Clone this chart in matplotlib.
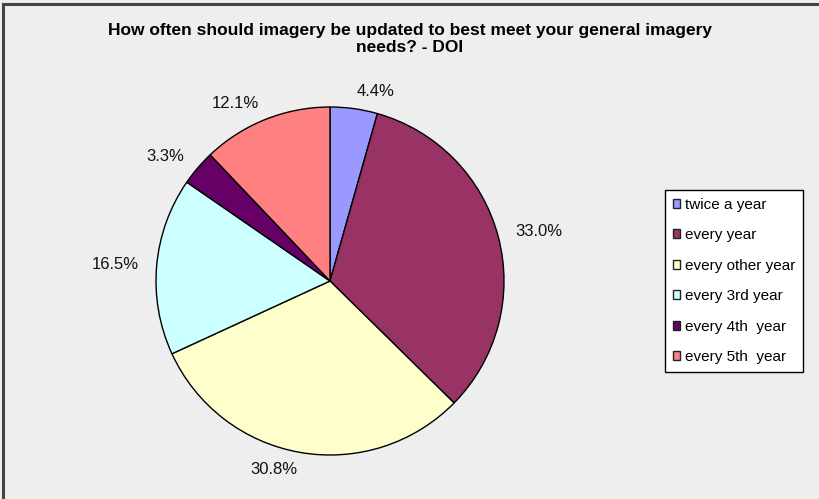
import matplotlib
matplotlib.use("Agg")
from matplotlib import pyplot as plt
from matplotlib.lines import Line2D

plt.rcParams['font.family'] = ['Liberation Sans', 'DejaVu Sans']

# survey answers (share of DOI respondents)
categories = ["twice a year", "every year", "every other year",
              "every 3rd year", "every 4th  year", "every 5th  year"]
shares = [4.4, 33.0, 30.8, 16.5, 3.3, 12.1]
colours = ["#9999FF", "#993366", "#FFFFCC", "#CCFFFF", "#660066", "#FF8080"]
pct_labels = ["%.1f%%" % s for s in shares]

fig = plt.figure(figsize=(8.2, 4.99), dpi=100)
fig.patch.set_facecolor("#EEEEEE")

# frame lines round the chart area
fig.add_artist(Line2D([0.004, 0.004], [0, 0.992], color="#444444", lw=2.2))
fig.add_artist(Line2D([0.004, 1], [0.992, 0.992], color="#444444", lw=2.2))

W, H = 820, 499
cx, cy, r = 330, 281, 174
ax = fig.add_axes([(cx - r) / W, (H - cy - r) / H, 2 * r / W, 2 * r / H])
ax.set_facecolor("none")

wedges, texts = ax.pie(shares, colors=colours, labels=pct_labels,
                       startangle=90, counterclock=False, labeldistance=1.1,
                       wedgeprops=dict(edgecolor="black", linewidth=1.0),
                       textprops=dict(fontsize=12, color="#111111"))
ax.set_xlim(-1, 1)
ax.set_ylim(-1, 1)
ax.set_aspect("equal")

fig.text(0.5, 1 - 39 / H, "How often should imagery be updated to best meet your general imagery\nneeds? - DOI",
         ha="center", va="center", fontsize=12.5, fontweight="bold", linespacing=1.1)

handles = [plt.Rectangle((0, 0), 1, 1, facecolor=c, edgecolor="#222222", lw=1) for c in colours]
leg = fig.legend(handles, categories, loc="upper left",
                 bbox_to_anchor=(665 / W, 1 - 190 / H), borderaxespad=0,
                 fontsize=11, frameon=True, fancybox=False, framealpha=1,
                 edgecolor="black", handlelength=0.5, handleheight=0.5,
                 handletextpad=0.3, labelspacing=1.08, borderpad=0.5)
leg.get_frame().set_linewidth(1.0)

fig.savefig("out.png", dpi=100, facecolor=fig.get_facecolor())
